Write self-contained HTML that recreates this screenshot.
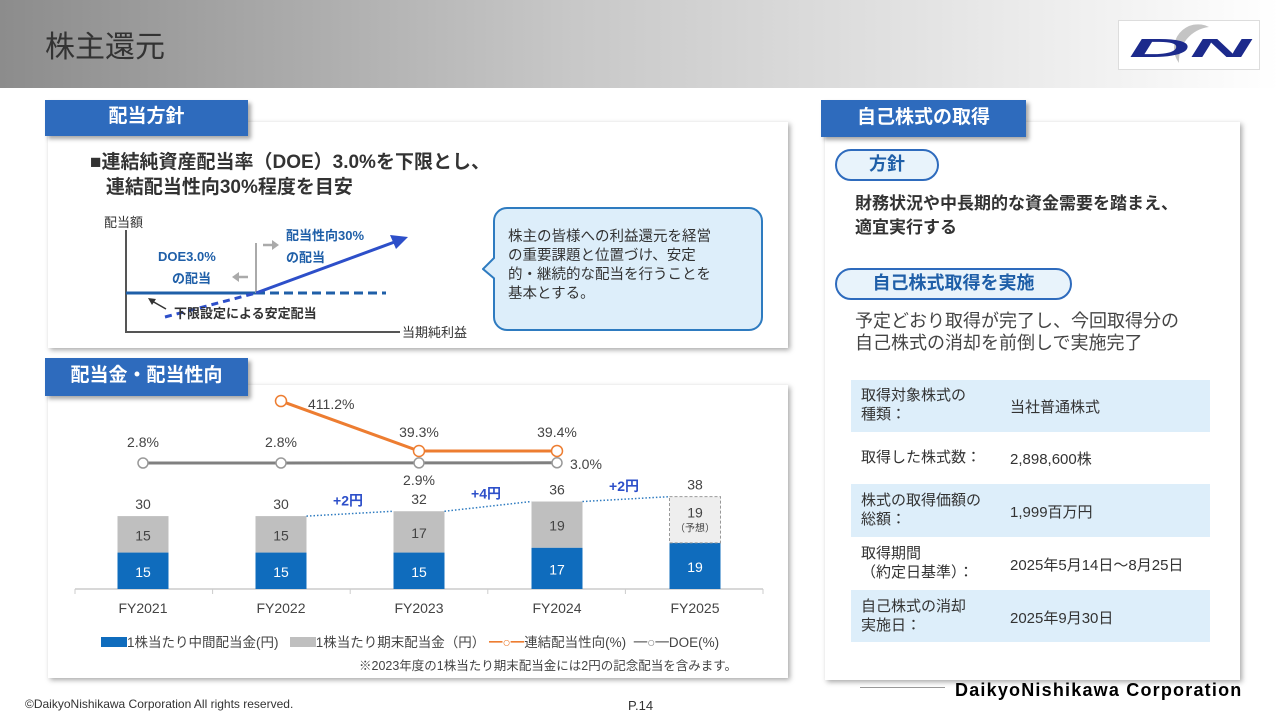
<!DOCTYPE html>
<html><head><meta charset="utf-8">
<style>
body{margin:0;width:1280px;height:720px;position:relative;background:#fff;font-family:"Liberation Sans","Noto Sans CJK JP",sans-serif;overflow:hidden;color:#333}
.abs{position:absolute}
.tab{position:absolute;background:#2e6bbd;color:#fff;font-weight:bold;font-size:19px;text-align:center;box-shadow:3px 3px 4px rgba(0,0,0,.35)}
.card{position:absolute;background:#fff;box-shadow:2px 2px 5px rgba(0,0,0,.35)}
.pill{position:absolute;border:2px solid #2e6bbd;border-radius:20px;background:#e8f3fb;color:#1f5fa8;font-weight:bold;font-size:18px;text-align:center}
.row{position:absolute;left:851px;width:359px;font-size:15px;color:#333}
.row .a{position:absolute;left:10px;top:0;line-height:19px}
.row .b{position:absolute;left:159px}
</style></head><body>
<div class="abs" style="left:0;top:0;width:1280px;height:88px;background:linear-gradient(90deg,#8c8c8c 0%,#c8c8c8 45%,#fff 100%)"></div>
<div class="abs" style="left:45px;top:22px;font-size:30px;color:#333">株主還元</div>
<div class="abs" style="left:1118px;top:20px;width:140px;height:48px;background:#fff;border:1px solid #ddd">
<svg width="140" height="48"><path d="M90 6 A34 34 0 0 0 60 42 A24 24 0 0 1 90 6Z" fill="#c4c4c4"/>
<text x="10" y="36" font-family="Liberation Sans" font-weight="bold" font-style="italic" font-size="26" fill="#1c2a8c" textLength="122" lengthAdjust="spacingAndGlyphs">DN</text></svg></div>

<div class="card" style="left:48px;top:122px;width:740px;height:226px"></div>
<div class="tab" style="left:45px;top:100px;width:203px;height:36px;line-height:34px">配当方針</div>
<div class="abs" style="left:90px;top:150px;font-size:19px;font-weight:bold;line-height:25px;color:#333">■連結純資産配当率（DOE）3.0%を下限とし、<br>&nbsp;&nbsp;&nbsp;連結配当性向30%程度を目安</div>
<svg class="abs" style="left:90px;top:205px" width="410" height="140">
<text x="14" y="22" font-size="13" fill="#333">配当額</text>
<polyline points="36,25 36,127 310,127" fill="none" stroke="#555" stroke-width="2"/>
<text x="312" y="132" font-size="13" fill="#333">当期純利益</text>
<line x1="36" y1="88" x2="166" y2="88" stroke="#1f5fa8" stroke-width="3"/>
<line x1="166" y1="88" x2="296" y2="88" stroke="#1f5fa8" stroke-width="3" stroke-dasharray="9,5"/>
<line x1="166" y1="38" x2="166" y2="88" stroke="#aaa" stroke-width="2"/>
<line x1="75" y1="112" x2="166" y2="88" stroke="#2d4fc9" stroke-width="3" stroke-dasharray="7,5"/>
<line x1="166" y1="88" x2="310" y2="35" stroke="#2d4fc9" stroke-width="3"/>
<polygon points="318,32 300,30 306,44" fill="#2d4fc9"/>
<text x="68" y="56" font-size="13" font-weight="bold" fill="#1f5fa8">DOE3.0%</text>
<text x="82" y="78" font-size="13" font-weight="bold" fill="#1f5fa8">の配当</text>
<text x="196" y="35" font-size="13" font-weight="bold" fill="#1f5fa8">配当性向30%</text>
<text x="196" y="57" font-size="13" font-weight="bold" fill="#1f5fa8">の配当</text>
<line x1="173" y1="40" x2="183" y2="40" stroke="#aaa" stroke-width="2.5"/><polygon points="189,40 182,35 182,45" fill="#aaa"/>
<line x1="148" y1="72" x2="158" y2="72" stroke="#aaa" stroke-width="2.5"/><polygon points="142,72 149,67 149,77" fill="#aaa"/>
<path d="M76 104 L62 96" stroke="#333" stroke-width="1.5" fill="none"/><polygon points="58,93 66,94 62,100" fill="#333"/>
<text x="84" y="113" font-size="13" font-weight="bold" fill="#333">下限設定による安定配当</text>
</svg>
<div class="abs" style="left:493px;top:207px;width:266px;height:120px;border:2px solid #2e7bc0;border-radius:14px;background:#ddeefa"></div>
<svg class="abs" style="left:482px;top:256px" width="16" height="26"><polygon points="14,0 1,13 14,24" fill="#ddeefa" stroke="#2e7bc0" stroke-width="2"/><rect x="13" y="0" width="4" height="26" fill="#ddeefa"/></svg>
<div class="abs" style="left:508px;top:228px;font-size:14.5px;line-height:19px;color:#333">株主の皆様への利益還元を経営<br>の重要課題と位置づけ、安定<br>的・継続的な配当を行うことを<br>基本とする。</div>

<div class="card" style="left:48px;top:385px;width:740px;height:293px"></div>
<div class="tab" style="left:45px;top:358px;width:203px;height:38px;line-height:36px">配当金・配当性向</div>
<svg class="abs" id="chart" style="left:0;top:0" width="790" height="680" font-family="Liberation Sans, Noto Sans CJK JP, sans-serif"></svg>
<div class="abs" style="left:101px;top:631px;font-size:13.5px;color:#444;white-space:nowrap">
<span style="display:inline-block;width:26px;height:10px;background:#0f6cbd"></span>1株当たり中間配当金(円)&nbsp;&nbsp;
<span style="display:inline-block;width:26px;height:10px;background:#bfbfbf"></span>1株当たり期末配当金（円）
<span style="color:#ed7d31;font-weight:bold">━○━</span>連結配当性向(%)&nbsp;&nbsp;<span style="color:#888;font-weight:bold">━○━</span>DOE(%)</div>
<div class="abs" style="left:359px;top:655px;font-size:12.5px;color:#444">※2023年度の1株当たり期末配当金には2円の記念配当を含みます。</div>

<div class="card" style="left:825px;top:122px;width:415px;height:558px"></div>
<div class="tab" style="left:821px;top:100px;width:205px;height:37px;line-height:35px">自己株式の取得</div>
<div class="pill" style="left:835px;top:149px;width:100px;height:28px;line-height:27px">方針</div>
<div class="abs" style="left:855px;top:192px;font-size:17px;font-weight:bold;line-height:24px;color:#333">財務状況や中長期的な資金需要を踏まえ、<br>適宜実行する</div>
<div class="pill" style="left:835px;top:268px;width:233px;height:28px;line-height:27px">自己株式取得を実施</div>
<div class="abs" style="left:855px;top:310px;font-size:18px;line-height:22px;color:#444">予定どおり取得が完了し、今回取得分の<br>自己株式の消却を前倒しで実施完了</div>
<div class="row" style="top:380px;height:52px;background:#ddeefa"><span class="a" style="top:6px">取得対象株式の<br>種類：</span><span class="b" style="top:16px">当社普通株式</span></div>
<div class="row" style="top:432px;height:52px"><span class="a" style="top:16px">取得した株式数：</span><span class="b" style="top:16px">2,898,600株</span></div>
<div class="row" style="top:484px;height:53px;background:#ddeefa"><span class="a" style="top:7px">株式の取得価額の<br>総額：</span><span class="b" style="top:17px">1,999百万円</span></div>
<div class="row" style="top:537px;height:53px"><span class="a" style="top:7px">取得期間<br>（約定日基準）：</span><span class="b" style="top:17px">2025年5月14日～8月25日</span></div>
<div class="row" style="top:590px;height:52px;background:#ddeefa"><span class="a" style="top:7px">自己株式の消却<br>実施日：</span><span class="b" style="top:17px">2025年9月30日</span></div>

<div class="abs" style="left:25px;top:697px;font-size:12px;color:#333">©DaikyoNishikawa Corporation All rights reserved.</div>
<div class="abs" style="left:628px;top:698px;font-size:13px;color:#333">P.14</div>
<div class="abs" style="left:860px;top:687px;width:85px;height:1px;background:#999"></div>
<div class="abs" style="left:955px;top:680px;font-size:18px;font-weight:bold;color:#000;letter-spacing:1.2px;white-space:nowrap">DaikyoNishikawa Corporation</div>

<script>
const years=['FY2021','FY2022','FY2023','FY2024','FY2025'];
const interim=[15,15,15,17,19];
const yearEnd=[15,15,17,19,19];
const payout=[null,411.2,39.3,39.4,null];
const doe=[2.8,2.8,2.9,3.0,null];
const doeLabels=['2.8%','2.8%','2.9%','3.0%'];
const payoutLabels=['','411.2%','39.3%','39.4%'];
const increments=['+2円','+4円','+2円'];
const svg=document.getElementById('chart');
const NS='http://www.w3.org/2000/svg';
const x=i=>143+i*138;
const yBar=v=>589-v*2.43;
const yPay=v=>451-(Math.log10(v)-Math.log10(39.3))*49;
const yDoe=v=>463-(v-2.8)*1;
function mk(t,a,txt){const e=document.createElementNS(NS,t);for(const k in a)e.setAttribute(k,a[k]);if(txt!==undefined)e.textContent=txt;svg.appendChild(e);return e;}
let ax=mk('line',{x1:75,y1:589,x2:763,y2:589,stroke:'#ccc','stroke-width':1.5});


for(let i=0;i<=5;i++){let t=mk('line',{x1:75+i*137.6,y1:589,x2:75+i*137.6,y2:594,stroke:'#ccc'});

}
years.forEach((y,i)=>{
 let l=mk('text',{x:x(i),y:613,'text-anchor':'middle','font-size':14,fill:'#444'},y);
 
 
 const tot=interim[i]+yearEnd[i];
 let b1=mk('rect',{x:x(i)-25.5,y:yBar(interim[i]),width:51,height:yBar(0)-yBar(interim[i]),fill:'#0f6cbd'});
 
 
 const fc=i==4?{fill:'#eeeeee',stroke:'#999','stroke-dasharray':'3,2'}:{fill:'#bfbfbf'};
 let b2=mk('rect',Object.assign({x:x(i)-25.5,y:yBar(tot),width:51,height:yBar(interim[i])-yBar(tot)},fc));
 
 
 mk('text',{x:x(i),y:(yBar(0)+yBar(interim[i]))/2+6,'text-anchor':'middle','font-size':14,fill:'#fff'},interim[i]);
 mk('text',{x:x(i),y:(yBar(interim[i])+yBar(tot))/2+(i==4?-2:6),'text-anchor':'middle','font-size':14,fill:'#444'},yearEnd[i]);
 if(i==4)mk('text',{x:x(i),y:(yBar(interim[i])+yBar(tot))/2+12,'text-anchor':'middle','font-size':10,fill:'#444'},'（予想）');
 mk('text',{x:x(i),y:yBar(tot)-7,'text-anchor':'middle','font-size':14,fill:'#444'},tot);
});
for(let i=1;i<4;i++){
 const a=interim[i]+yearEnd[i],b=interim[i+1]+yearEnd[i+1];
 let d=mk('line',{x1:x(i)+25.5,y1:yBar(a),x2:x(i+1)-25.5,y2:yBar(b),stroke:'#2e7bc0','stroke-width':1.5,'stroke-dasharray':'1.5,2'});
 
 
 let t=mk('text',{x:(x(i)+x(i+1))/2-2,y:(yBar(a)+yBar(b))/2-8,'text-anchor':'middle','font-size':14,'font-weight':'bold',fill:'#2d4fc9'},increments[i-1]);
 
 
}
let dp=[];doe.forEach((v,i)=>{if(v!==null)dp.push(x(i)+','+yDoe(v));});
let dl=mk('polyline',{points:dp.join(' '),fill:'none',stroke:'#808080','stroke-width':3});


let pp=[];payout.forEach((v,i)=>{if(v!==null)pp.push(x(i)+','+yPay(v));});
let pl=mk('polyline',{points:pp.join(' '),fill:'none',stroke:'#ed7d31','stroke-width':3});


doe.forEach((v,i)=>{if(v===null)return;
 let c=mk('circle',{cx:x(i),cy:yDoe(v),r:5,fill:'#fff',stroke:'#999','stroke-width':1.5});
 
 
 let pos=i==2?{x:x(i),y:yDoe(v)+22,a:'middle'}:i==3?{x:x(i)+13,y:yDoe(v)+6,a:'start'}:{x:x(i),y:yDoe(v)-16,a:'middle'};
 mk('text',{x:pos.x,y:pos.y,'text-anchor':pos.a,'font-size':14,fill:'#444'},doeLabels[i]);
});
payout.forEach((v,i)=>{if(v===null)return;
 let c=mk('circle',{cx:x(i),cy:yPay(v),r:5.5,fill:'#fff',stroke:'#ed7d31','stroke-width':1.5});
 
 
 let pos=i==1?{x:x(i)+27,y:yPay(v)+8,a:'start'}:{x:x(i),y:yPay(v)-14,a:'middle'};
 mk('text',{x:pos.x,y:pos.y,'text-anchor':pos.a,'font-size':14,fill:'#444'},payoutLabels[i]);
});
</script>
</body></html>
